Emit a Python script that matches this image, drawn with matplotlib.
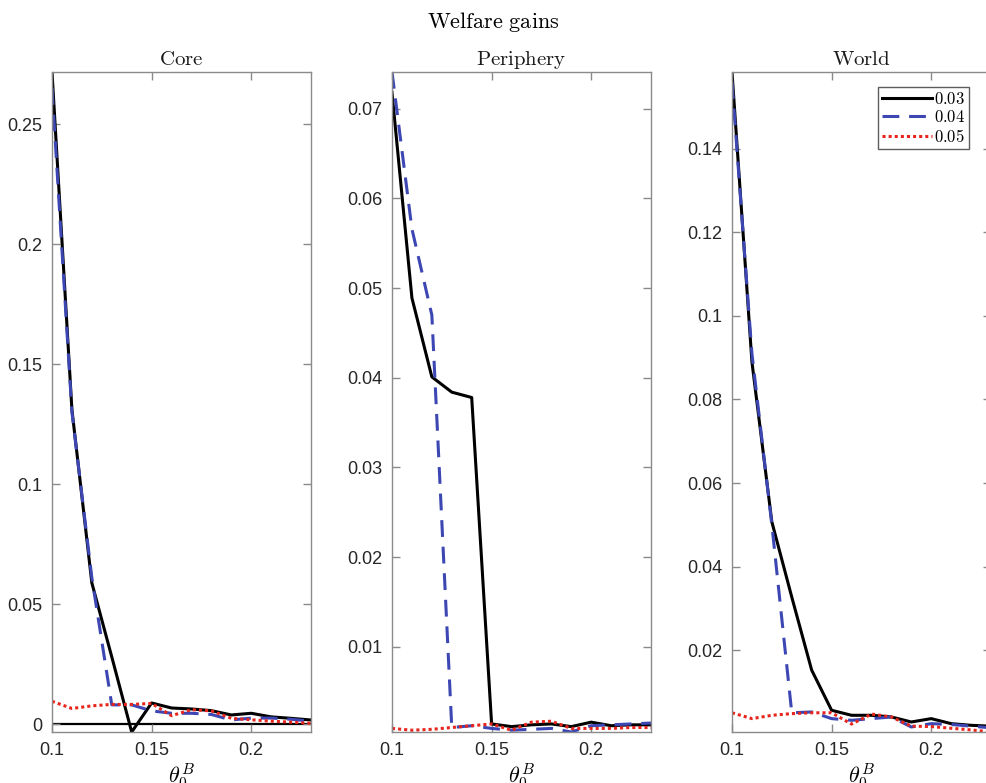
import matplotlib
matplotlib.use("Agg")
import matplotlib.pyplot as plt
import numpy as np

plt.rcParams['mathtext.fontset'] = 'cm'
plt.rcParams['font.family'] = ['Liberation Sans', 'DejaVu Sans']

theta = [0.10, 0.11, 0.12, 0.13, 0.14, 0.15, 0.16, 0.17, 0.18, 0.19, 0.20, 0.21, 0.22, 0.23]
series_labels = ['0.03', '0.04', '0.05']
panel_titles = ['Core', 'Periphery', 'World']

core_003 = [0.2717, 0.131, 0.0588, 0.028, -0.0033, 0.0088, 0.0067, 0.0063, 0.0056, 0.0038, 0.0045, 0.0030, 0.0024, 0.0017]
core_004 = [0.265, 0.130, 0.061, 0.008, 0.008, 0.0055, 0.0045, 0.0045, 0.0040, 0.0017, 0.0025, 0.0025, 0.0020, 0.0012]
core_005 = [0.0095, 0.0065, 0.0076, 0.0082, 0.0082, 0.0086, 0.0035, 0.0060, 0.0055, 0.0024, 0.0018, 0.0012, 0.0008, 0.0003]

peri_003 = [0.0718, 0.0489, 0.0401, 0.0384, 0.0378, 0.0014, 0.0011, 0.0013, 0.0014, 0.0011, 0.0016, 0.0012, 0.0013, 0.0013]
peri_004 = [0.0741, 0.0566, 0.0470, 0.0010, 0.0012, 0.0009, 0.0007, 0.0008, 0.0009, 0.0005, 0.0012, 0.0013, 0.0014, 0.0015]
peri_005 = [0.0009, 0.0007, 0.0008, 0.0010, 0.0012, 0.0014, 0.0007, 0.0016, 0.0017, 0.0009, 0.0009, 0.0009, 0.0010, 0.0010]

world_003 = [0.1584, 0.089, 0.0507, 0.0327, 0.0152, 0.0056, 0.0044, 0.0044, 0.0040, 0.0028, 0.0036, 0.0024, 0.0020, 0.0018]
world_004 = [0.156, 0.091, 0.050, 0.0050, 0.0052, 0.0036, 0.0032, 0.0036, 0.0040, 0.0016, 0.0024, 0.0022, 0.0018, 0.0014]
world_005 = [0.0050, 0.0036, 0.0044, 0.0048, 0.0050, 0.0050, 0.0023, 0.0047, 0.0040, 0.0018, 0.0017, 0.0013, 0.0009, 0.0004]

panels = [
    (core_003, core_004, core_005),
    (peri_003, peri_004, peri_005),
    (world_003, world_004, world_005),
]
yticks_list = [
    [0, 0.05, 0.1, 0.15, 0.2, 0.25],
    [0.01, 0.02, 0.03, 0.04, 0.05, 0.06, 0.07],
    [0.02, 0.04, 0.06, 0.08, 0.1, 0.12, 0.14],
]
xticks = [0.1, 0.15, 0.2]

fig = plt.figure(figsize=(9.86, 7.83), dpi=100)
lefts = [52 / 986, 392 / 986, 732 / 986]
W = 259 / 986
B = 1 - 732 / 783
H = (732 - 72) / 783

styles = [
    dict(color='black', linestyle='-', linewidth=2.2),
    dict(color='#3D47B3', linestyle=(0, (5.5, 3.2)), linewidth=2.2),
    dict(color='#E8251C', linestyle=(0, (1.0, 1.0)), linewidth=2.2),
]

spine_col = '#8a8a8a'
for i, (left, data) in enumerate(zip(lefts, panels)):
    ax = fig.add_axes([left, B, W, H])
    lines = []
    for d, st, lab in zip(data, styles, series_labels):
        ln, = ax.plot(theta, d, label='$' + lab + '$', **st)
        lines.append(ln)
    allv = np.concatenate([np.asarray(d) for d in data])
    ax.set_xlim(theta[0], theta[-1])
    ax.set_ylim(allv.min(), allv.max())
    if i == 0:
        ax.axhline(0, color='black', linewidth=1.6, zorder=1)
    ax.set_xticks(xticks)
    ax.set_xticklabels(['0.1', '0.15', '0.2'])
    ax.set_yticks(yticks_list[i])
    ax.set_yticklabels([('%g' % v) for v in yticks_list[i]])
    ax.tick_params(direction='in', length=6, width=1.0, color=spine_col,
                   labelsize=13, labelcolor='#262626', top=True, right=True, pad=7)
    for s in ax.spines.values():
        s.set_color(spine_col)
        s.set_linewidth(1.0)
    ax.set_title(r'$\mathrm{' + panel_titles[i] + '}$', fontsize=15, pad=5, color='#1a1a1a')
    ax.set_xlabel(r'$\theta_0^B$', fontsize=16, labelpad=2)
    if i == 2:
        leg = ax.legend(loc='upper right', bbox_to_anchor=(0.915, 0.978), fontsize=12,
                        handlelength=3.0, handletextpad=0.1, borderpad=0.25,
                        labelspacing=0.15, frameon=True, fancybox=False,
                        borderaxespad=0)
        leg.get_frame().set_edgecolor('#333333')
        leg.get_frame().set_linewidth(1.0)

fig.text(0.5, 1 - 22 / 783, r'$\mathrm{Welfare\ gains}$', ha='center', va='center', fontsize=16)

fig.savefig('out.png', dpi=100)
